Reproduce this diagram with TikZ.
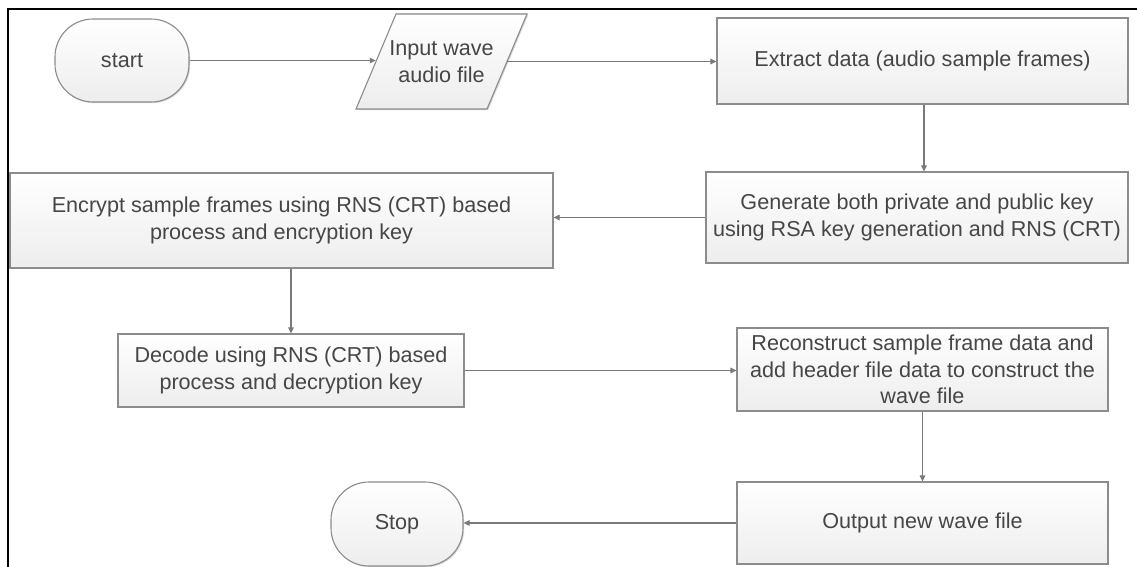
\documentclass[tikz,border=0pt]{standalone}
\usepackage{fontspec}
\setmainfont{Liberation Sans}
\usetikzlibrary{arrows.meta,shadows}
\definecolor{txtgray}{HTML}{464646}
\definecolor{edgegray}{HTML}{8C8C8C}
\definecolor{linegray}{HTML}{7A7A7A}
\tikzset{
  procbox/.style={draw=edgegray, line width=1.1pt, top color=white, bottom color=black!7,
    inner sep=0pt, align=center, text=txtgray,
    drop shadow={shadow xshift=1.2pt, shadow yshift=-1.2pt, opacity=0.25, fill=black!60}},
  termbox/.style={procbox, rounded corners=38pt},
  hidden/.style={inner sep=0pt, minimum width=#1, minimum height=95pt},
  flow/.style={draw=linegray, line width=1.1pt, -{Triangle[length=6pt,width=5.5pt]}},
  flowline/.style={draw=linegray, line width=1.1pt}
}
\begin{document}
\begin{tikzpicture}[x=1pt,y=-1pt, font=\fontsize{21.6}{26.5}\selectfont]
\useasboundingbox (0,0) rectangle (1137,567);
\fill[white] (0,0) rectangle (1137,567);
% frame
\draw[black, line width=2pt] (8,567) -- (8,9) -- (1137,9);

% start
\node[termbox, minimum width=134pt, minimum height=83pt] (start) at (122,60.5) {start};
% parallelogram input
\fill[top color=white, bottom color=black!7, draw=edgegray, line width=1.1pt,
  drop shadow={shadow xshift=1.2pt, shadow yshift=-1.2pt, opacity=0.25, fill=black!60}]
  (396,14) -- (527,14) -- (487,109) -- (356,109) -- cycle;
\node[hidden=131pt, align=center, text=txtgray] (in) at (441.5,61.5) {Input wave\\audio file};
% extract
\node[procbox, minimum width=411pt, minimum height=86pt] (ext) at (922.5,61) {Extract data (audio sample frames)};
% generate
\node[procbox, minimum width=422pt, minimum height=91pt] (gen) at (917,217.5) {Generate both private and public key\\using RSA key generation and RNS (CRT)};
% encrypt
\node[procbox, minimum width=543pt, minimum height=95pt] (enc) at (281.5,220.5) {Encrypt sample frames using RNS (CRT) based\\process and encryption key};
% decode
\node[procbox, minimum width=346pt, minimum height=73pt] (dec) at (291,370.5) {Decode using RNS (CRT) based\\process and decryption key};
% reconstruct
\node[procbox, minimum width=371pt, minimum height=83pt] (rec) at (922.5,369.5) {Reconstruct sample frame data and\\add header file data to construct the\\wave file};
% output
\node[procbox, minimum width=371pt, minimum height=82pt] (out) at (922.5,523) {Output new wave file};
% stop
\node[termbox, minimum width=132pt, minimum height=84pt] (stop) at (397,524) {Stop};

% connectors
\draw[flow] (start.east) -- (start.east -| in.west);
\draw[flow] (in.east) -- (ext.west |- in.east);
\draw[flow] ([xshift=1.5pt]ext.south) -- ([xshift=1.5pt]ext.south |- gen.north);
\draw[flow] (gen.west) -- (gen.west -| enc.east);
\draw[flow] (dec.north |- enc.south) -- (dec.north);
\draw[flow] (dec.east) -- (dec.east -| rec.west);
\draw[flow] (rec.south) -- (out.north);
\draw[flow] (out.west) -- (out.west -| stop.east);
\end{tikzpicture}
\end{document}
